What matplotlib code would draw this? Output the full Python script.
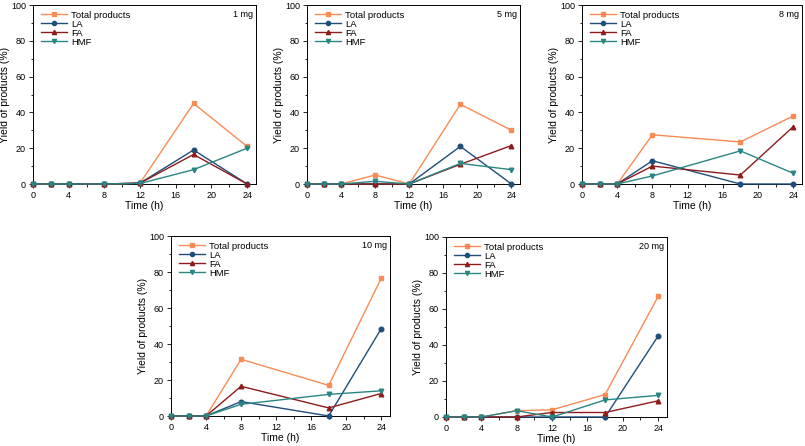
import matplotlib
matplotlib.use("Agg")
import matplotlib.pyplot as plt
from matplotlib.ticker import MultipleLocator

plt.rcParams['font.family'] = ['Liberation Sans', 'DejaVu Sans']

# ---- data ----
panel_labels = ["1 mg", "5 mg", "8 mg", "10 mg", "20 mg"]
series_names = ["Total products", "LA", "FA", "HMF"]

t_1mg = [0, 2, 4, 8, 12, 18, 24]
total_1mg = [0, 0, 0, 0, 0.5, 45, 21]
la_1mg = [0, 0, 0, 0, 0.5, 19, 0]
fa_1mg = [0, 0, 0, 0, 0.5, 16.5, 0]
hmf_1mg = [0, 0, 0, 0, 0.3, 8, 20]

t_5mg = [0, 2, 4, 8, 12, 18, 24]
total_5mg = [0, 0, 0, 5, 0, 44.5, 30]
la_5mg = [0, 0, 0, 0, 0, 21, 0]
fa_5mg = [0, 0, 0, 0, 0, 11, 21.5]
hmf_5mg = [0, 0, 0, 1.5, 0, 11.5, 8]

t_8mg = [0, 2, 4, 8, 18, 24]
total_8mg = [0, 0, 0, 27.5, 23.5, 38]
la_8mg = [0, 0, 0, 13, 0, 0]
fa_8mg = [0, 0, 0, 10, 5, 32]
hmf_8mg = [0, 0, 0, 4.5, 18.5, 6]

t_10mg = [0, 2, 4, 8, 18, 24]
total_10mg = [0, 0, 0, 31.5, 17, 76.5]
la_10mg = [0, 0, 0, 8, 0, 48.5]
fa_10mg = [0, 0, 0, 16.5, 4.5, 12.5]
hmf_10mg = [0, 0, 0, 6.5, 12, 14]

t_20mg = [0, 2, 4, 8, 12, 18, 24]
total_20mg = [0, 0, 0, 3.5, 4, 12.5, 67]
la_20mg = [0, 0, 0, 0, 0, 0, 45]
fa_20mg = [0, 0, 0, 0, 2.5, 2.5, 9]
hmf_20mg = [0, 0, 0, 3.5, 0, 9.5, 12]

panels = [
    (t_1mg, [total_1mg, la_1mg, fa_1mg, hmf_1mg]),
    (t_5mg, [total_5mg, la_5mg, fa_5mg, hmf_5mg]),
    (t_8mg, [total_8mg, la_8mg, fa_8mg, hmf_8mg]),
    (t_10mg, [total_10mg, la_10mg, fa_10mg, hmf_10mg]),
    (t_20mg, [total_20mg, la_20mg, fa_20mg, hmf_20mg]),
]

colors = ["#F98B55", "#1F4E7A", "#8E1B1B", "#2A8583"]
markers = ["s", "o", "^", "v"]

W, H = 805, 446
fig = plt.figure(figsize=(W / 100, H / 100), dpi=100)

# axes boxes in pixels: left, right, top, bottom
boxes = [
    (33, 256, 5, 184),
    (307, 520, 5, 184),
    (582, 802, 5, 184),
    (171, 390, 236, 416),
    (446, 667, 237, 417),
]

for (l, r, t, b), (tt, ys), lab in zip(boxes, panels, panel_labels):
    ax = fig.add_axes([l / W, 1 - b / H, (r - l) / W, (b - t) / H])
    for y, c, m, n in zip(ys, colors, markers, series_names):
        ax.plot(tt, y, color=c, marker=m, markersize=3.3, linewidth=1.0, label=n,
                clip_on=False, zorder=3)
    ax.set_xlim(0, 25)
    ax.set_ylim(0, 100)
    ax.xaxis.set_major_locator(MultipleLocator(4))
    ax.xaxis.set_minor_locator(MultipleLocator(2))
    ax.yaxis.set_major_locator(MultipleLocator(20))
    ax.yaxis.set_minor_locator(MultipleLocator(10))
    ax.tick_params(which='both', direction='out', top=False, right=False,
                   labelsize=6.5, width=0.6, pad=2)
    ax.tick_params(which='major', length=3)
    ax.tick_params(which='minor', length=1.8)
    for s in ax.spines.values():
        s.set_linewidth(0.7)
    ax.set_xlabel("Time (h)", fontsize=7.5, labelpad=1)
    ax.set_ylabel("Yield of products (%)", fontsize=7.5, labelpad=0.5)
    ax.text(0.985, 0.97, lab, transform=ax.transAxes, ha='right', va='top', fontsize=6.5)
    ax.legend(loc='upper left', frameon=False, fontsize=6.8, handlelength=2.8,
              handletextpad=0.4, labelspacing=0.0, borderaxespad=0.2,
              bbox_to_anchor=(0.01, 1.0), markerscale=0.9)

fig.savefig("out.png", dpi=100)
